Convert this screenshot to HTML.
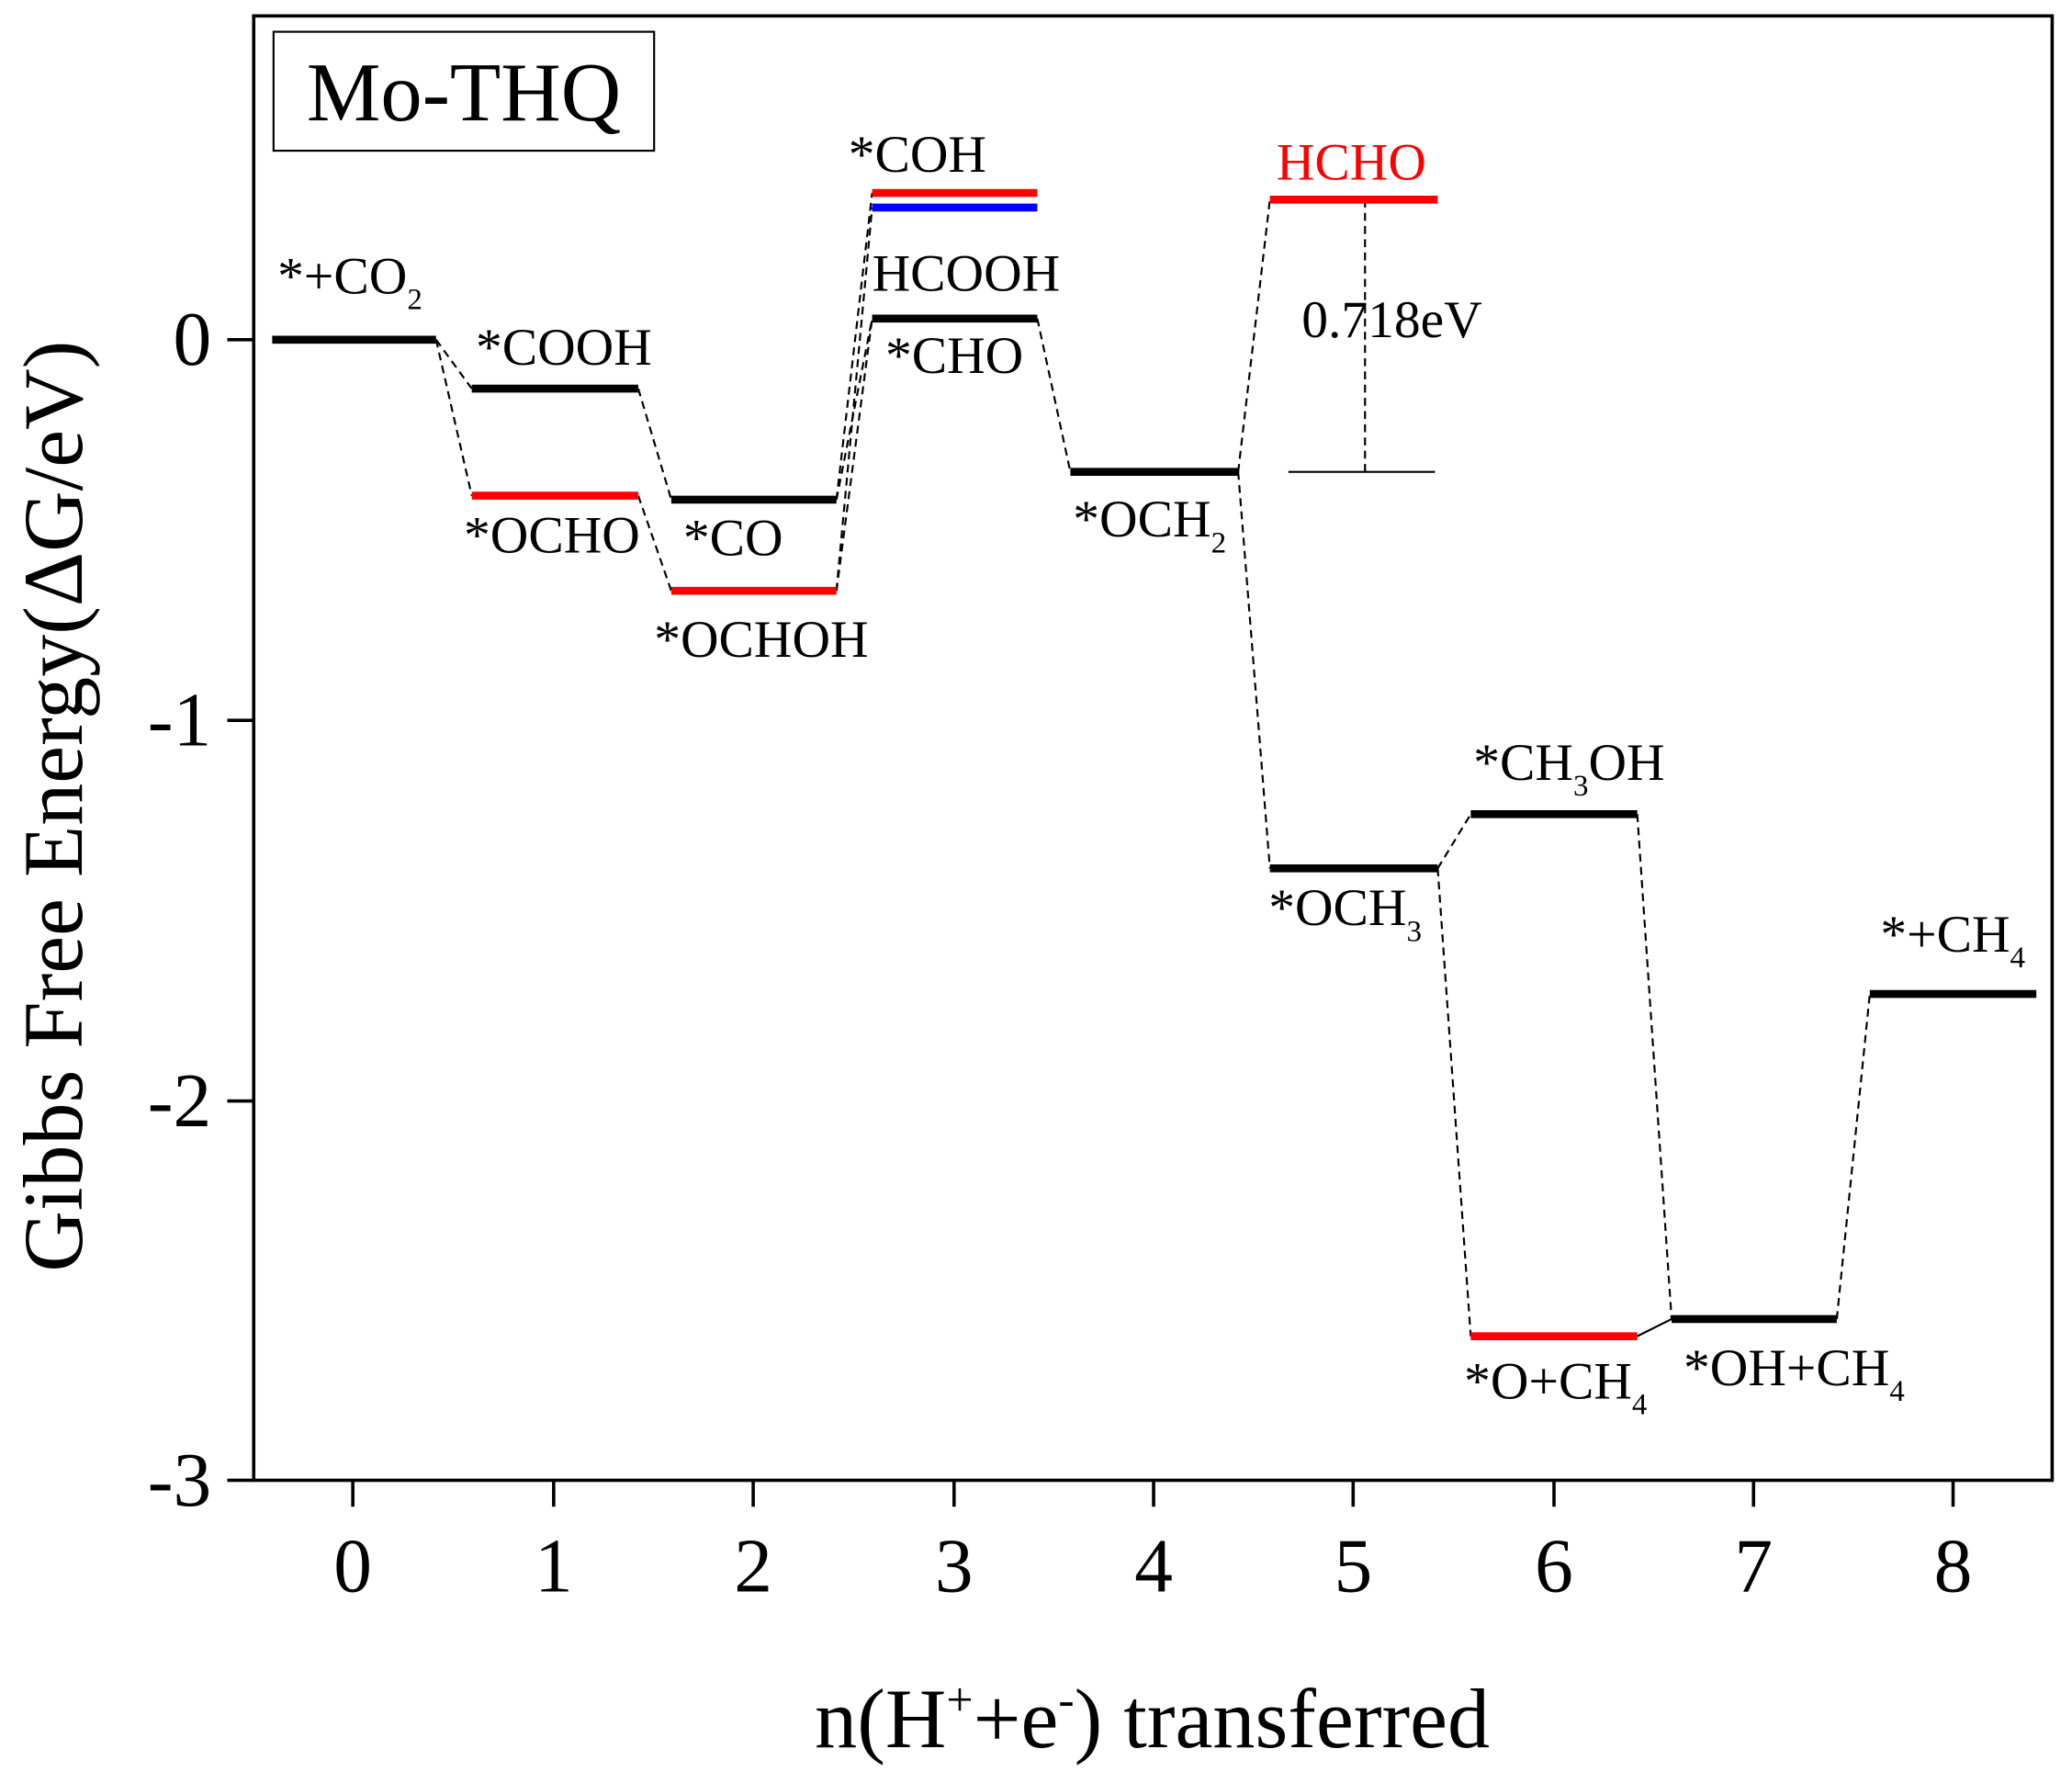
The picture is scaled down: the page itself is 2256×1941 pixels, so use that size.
<!DOCTYPE html>
<html><head><meta charset="utf-8"><style>html,body{margin:0;padding:0;background:#fff}svg{display:block}</style></head>
<body>
<svg width="2256" height="1941" viewBox="0 0 1568 1349" xmlns="http://www.w3.org/2000/svg" font-family="Liberation Serif, serif">
<rect x="0" y="0" width="1568" height="1349" fill="#fff"/>
<rect x="192" y="12" width="1361" height="1108" fill="none" stroke="#000" stroke-width="2.5"/>
<g stroke="#000" stroke-width="2.5">
<line x1="172" y1="257" x2="192" y2="257"/><line x1="172" y1="545" x2="192" y2="545"/>
<line x1="172" y1="833" x2="192" y2="833"/><line x1="172" y1="1120" x2="192" y2="1120"/>
<line x1="267" y1="1120" x2="267" y2="1140"/><line x1="419" y1="1120" x2="419" y2="1140"/>
<line x1="570" y1="1120" x2="570" y2="1140"/><line x1="722" y1="1120" x2="722" y2="1140"/>
<line x1="873" y1="1120" x2="873" y2="1140"/><line x1="1024" y1="1120" x2="1024" y2="1140"/>
<line x1="1176" y1="1120" x2="1176" y2="1140"/><line x1="1327" y1="1120" x2="1327" y2="1140"/>
<line x1="1478" y1="1120" x2="1478" y2="1140"/>
</g>
<g font-size="58" text-anchor="end">
<text x="160" y="276">0</text><text x="160" y="564">-1</text><text x="160" y="852">-2</text><text x="160" y="1139">-3</text>
</g>
<g font-size="58" text-anchor="middle">
<text x="267" y="1204">0</text><text x="419" y="1204">1</text><text x="570" y="1204">2</text><text x="722" y="1204">3</text>
<text x="873" y="1204">4</text><text x="1024" y="1204">5</text><text x="1176" y="1204">6</text><text x="1327" y="1204">7</text><text x="1478" y="1204">8</text>
</g>
<text x="872" y="1322" font-size="64" text-anchor="middle">n(H<tspan dy="-24" font-size="36">+</tspan><tspan dy="24">+e</tspan><tspan dy="-24" font-size="36">-</tspan><tspan dy="24">) transferred</tspan></text>
<text transform="translate(62,610) rotate(-90)" font-size="64" text-anchor="middle">Gibbs Free Energy(ΔG/eV)</text>
<rect x="207" y="24" width="288" height="90" fill="none" stroke="#000" stroke-width="1.5"/>
<text x="351" y="91" font-size="63" text-anchor="middle">Mo-THQ</text>
<g stroke="#000" stroke-width="1.5" stroke-dasharray="6,4" fill="none">
<line x1="330" y1="257" x2="357" y2="294"/><line x1="330" y1="257" x2="357" y2="375"/>
<line x1="483" y1="294" x2="508" y2="378"/><line x1="483" y1="375" x2="508" y2="447"/>
<line x1="633" y1="378" x2="660" y2="146"/><line x1="633" y1="378" x2="660" y2="241"/>
<line x1="633" y1="447" x2="660" y2="157"/><line x1="633" y1="447" x2="660" y2="241"/>
<line x1="785" y1="241" x2="810" y2="357"/>
<line x1="937" y1="357" x2="961" y2="151"/><line x1="937" y1="357" x2="961" y2="657"/>
<line x1="1088" y1="657" x2="1113" y2="616"/><line x1="1088" y1="657" x2="1113" y2="1011"/>
<line x1="1239" y1="616" x2="1265" y2="998"/>
<line x1="1390" y1="998" x2="1415" y2="752"/>
<line x1="1033" y1="151" x2="1033" y2="357"/>
</g>
<line x1="1239" y1="1011" x2="1265" y2="998" stroke="#000" stroke-width="1.5"/>
<line x1="975" y1="357" x2="1086" y2="357" stroke="#000" stroke-width="1.5"/>
<g stroke-width="6">
<line x1="206" y1="257" x2="330" y2="257" stroke="#000"/>
<line x1="357" y1="294" x2="483" y2="294" stroke="#000"/>
<line x1="357" y1="375" x2="483" y2="375" stroke="#f00"/>
<line x1="508" y1="378" x2="633" y2="378" stroke="#000"/>
<line x1="508" y1="447" x2="633" y2="447" stroke="#f00"/>
<line x1="660" y1="146" x2="785" y2="146" stroke="#f00"/>
<line x1="660" y1="157" x2="785" y2="157" stroke="#00f"/>
<line x1="660" y1="241" x2="785" y2="241" stroke="#000"/>
<line x1="810" y1="357" x2="937" y2="357" stroke="#000"/>
<line x1="961" y1="151" x2="1088" y2="151" stroke="#f00"/>
<line x1="961" y1="657" x2="1088" y2="657" stroke="#000"/>
<line x1="1113" y1="616" x2="1239" y2="616" stroke="#000"/>
<line x1="1113" y1="1011" x2="1239" y2="1011" stroke="#f00"/>
<line x1="1265" y1="998" x2="1390" y2="998" stroke="#000"/>
<line x1="1415" y1="752" x2="1541" y2="752" stroke="#000"/>
</g>
<g font-size="40">
<text x="210" y="222">*+CO<tspan dy="12" font-size="23">2</tspan></text>
<text x="360" y="276">*COOH</text>
<text x="351" y="418">*OCHO</text>
<text x="517" y="420">*CO</text>
<text x="495" y="497">*OCHOH</text>
<text x="642" y="130">*COH</text>
<text x="660" y="220">HCOOH</text>
<text x="670" y="282">*CHO</text>
<text x="966" y="136" fill="#f00">HCHO</text>
<text x="985" y="255">0.718eV</text>
<text x="812" y="406">*OCH<tspan dy="12" font-size="23">2</tspan></text>
<text x="960" y="700">*OCH<tspan dy="12" font-size="23">3</tspan></text>
<text x="1115" y="590">*CH<tspan dy="12" font-size="23">3</tspan><tspan dy="-12">OH</tspan></text>
<text x="1108" y="1058">*O+CH<tspan dy="12" font-size="23">4</tspan></text>
<text x="1274" y="1048">*OH+CH<tspan dy="12" font-size="23">4</tspan></text>
<text x="1423" y="720">*+CH<tspan dy="12" font-size="23">4</tspan></text>
</g>
</svg>
</body></html>
